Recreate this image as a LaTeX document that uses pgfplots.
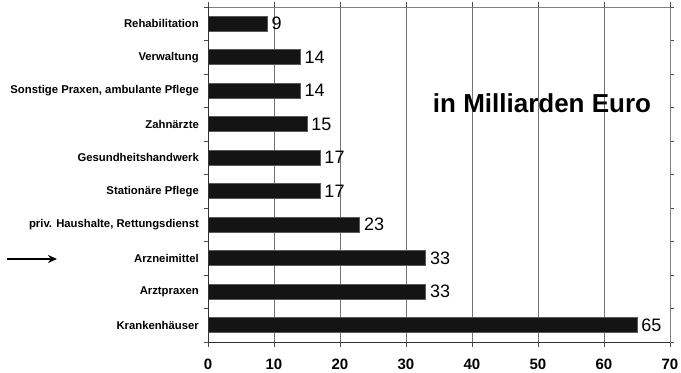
\documentclass[border=0pt]{standalone}
\usepackage{fontspec}
\setmainfont{Liberation Sans}
\usepackage{pgfplots}
\pgfplotsset{compat=1.18}
\usetikzlibrary{arrows.meta}

\pgfplotstableread{
idx value
0 65
1 33
2 33
3 23
4 17
5 17
6 15
7 14
8 14
9 9
}\ausgaben

\begin{document}
\begin{tikzpicture}
\useasboundingbox (0,0) rectangle (681bp,373bp);
\begin{axis}[
  at={(208bp,31bp)}, anchor=south west,
  scale only axis,
  width=462bp, height=335bp,
  xbar, bar width=15bp,
  xmin=0, xmax=70,
  ymin=-0.5, ymax=9.5,
  xtick={0,10,...,70},
  ytick={0,...,9},
  yticklabels={Krankenhäuser,Arztpraxen,Arzneimittel,{priv. Haushalte, Rettungsdienst},Stationäre Pflege,Gesundheitshandwerk,Zahnärzte,{Sonstige Praxen, ambulante Pflege},Verwaltung,Rehabilitation},
  minor ytick={-0.5,0.5,...,9.5},
  tick align=outside,
  major tick length=5bp,
  minor tick length=4bp,
  y tick style={draw=none},
  minor y tick style={draw=black!70, line width=0.6bp},
  x tick style={draw=black!70, line width=0.6bp},
  xmajorgrids,
  grid style={draw=black!55, line width=0.7bp},
  axis line style={draw=black!50, line width=0.7bp},
  /pgf/number format/assume math mode=true,
  xticklabel style={font=\fontsize{15bp}{16bp}\selectfont\bfseries, inner sep=0pt, anchor=north, yshift=-11.5bp},
  yticklabel style={font=\fontsize{11.3bp}{12bp}\selectfont\bfseries, inner sep=0pt, anchor=east, xshift=-4bp},
  nodes near coords,
  every node near coord/.append style={font=\fontsize{18bp}{18bp}\selectfont, anchor=west, inner sep=0pt, xshift=4bp, text=black},
  clip=false,
]
\addplot[fill=black!92, draw=black!65, line width=0.6bp] table[x=value, y=idx] {\ausgaben};
\draw[black!80, line width=0.8bp] (rel axis cs:0,1) -- (rel axis cs:0,0) -- (rel axis cs:1,0);
\end{axis}
\draw[line width=2.6bp, -{Stealth[length=9bp, width=8bp]}] (7bp,114bp) -- (57bp,114bp);
\node[font=\fontsize{26bp}{26bp}\selectfont\bfseries] at (542bp,270bp) {in Milliarden Euro};
\end{tikzpicture}
\end{document}
